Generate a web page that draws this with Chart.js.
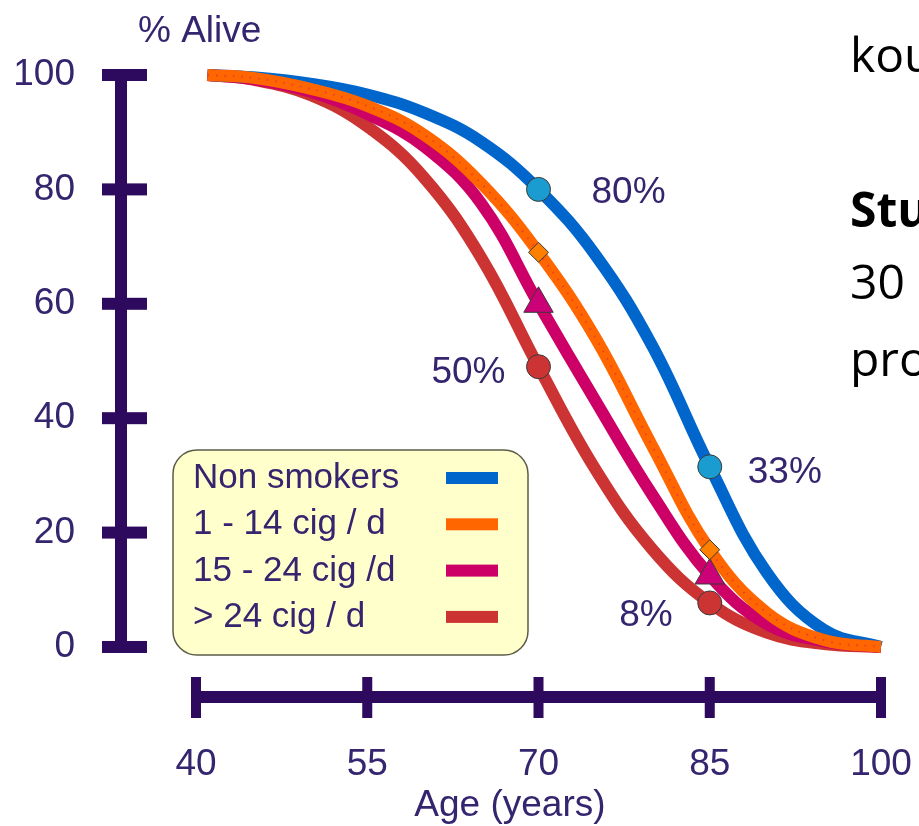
<!DOCTYPE html>
<html lang="en">
  <head>
    <meta charset="UTF-8" />
    <title>% Alive by age and smoking</title>
    <script src="https://cdn.jsdelivr.net/npm/chart.js"></script>
    <style>
      html,
      body {
        margin: 0;
        width: 919px;
        height: 826px;
        overflow: hidden;
        background: #fff;
        font-family: "Liberation Sans", Arial, sans-serif;
      }
      #wrap {
        position: absolute;
        left: 0;
        top: 0;
        width: 919px;
        height: 826px;
      }
      .slide {
        position: absolute;
        left: 850px;
        font-family: "Open Sans", sans-serif;
        font-size: 48px;
        line-height: 1;
        color: #000;
        white-space: nowrap;
      }
    </style>
  </head>
  <body>
    <div id="wrap"><canvas id="chart"></canvas></div>
    <div class="slide" style="top: 30px">kou</div>
    <div class="slide" style="top: 185px; font-weight: 700">Stu</div>
    <div class="slide" style="top: 257px">30</div>
    <div class="slide" style="top: 334px">pro</div>
    <script>
      // values
      const ages = [41, 45, 50, 55, 60, 65, 70, 75, 80, 85, 90, 95, 100];
      const nonSmokers = [100, 99.6, 98.5, 96.6, 93.4, 88.3, 80, 68.5, 52.5, 31.5, 13, 3, 0];
      const light = [100, 99.5, 97.6, 94.6, 89.5, 81, 69, 54, 35, 17, 6, 1.2, 0];
      const medium = [100, 99.3, 97.1, 93.2, 87.5, 77.5, 60, 43, 26.5, 12.5, 4, 1, 0];
      const heavy = [100, 99.2, 96.5, 91, 82, 68, 49, 31, 17, 7.7, 2.5, 0.5, 0];

      const seriesLabels = ["Non smokers", "1 - 14 cig / d", "15 - 24 cig /d", "> 24 cig / d"];
      const seriesColors = ["#0066cc", "#ff6600", "#cc0066", "#cc3333"];
      const xTicks = [40, 55, 70, 85, 100];
      const yTicks = [0, 20, 40, 60, 80, 100];
      const markerAges = [70, 85];
      const nonSmokerCallouts = ["80%", "33%"];
      const heavyCallouts = ["50%", "8%"];

      const ink = "#2e0a5e";
      const textColor = "#35256f";
      const allSeries = [nonSmokers, light, medium, heavy];

      function points(series) {
        return ages.map((a, i) => ({ x: a, y: series[i] }));
      }
      function markerPoints(series) {
        return markerAges.map((a) => ({ x: a, y: series[ages.indexOf(a)] }));
      }

      const lineDatasets = allSeries.map((s, i) => ({
        label: seriesLabels[i],
        data: points(s),
        borderColor: seriesColors[i],
        borderWidth: 12,
        pointRadius: 0,
        tension: 0.4,
        clip: false,
        order: [2, 1, 3, 4][i],
      }));

      // little red dots running along the orange curve
      const dotted = {
        data: points(light),
        borderColor: "#e8402e",
        borderWidth: 2,
        borderDash: [1.5, 7],
        pointRadius: 0,
        tension: 0.4,
        clip: false,
        order: 0,
        isOverlay: true,
      };

      const markerStyle = [
        { pointStyle: "circle", radius: 12, color: "#1b9cd0" },
        { pointStyle: "rectRot", radius: 10, color: "#ff8000" },
        { pointStyle: "triangle", radius: 17, color: "#cc0077" },
        { pointStyle: "circle", radius: 12, color: "#cc3333" },
      ];
      const markerDatasets = allSeries.map((s, i) => ({
        data: markerPoints(s),
        showLine: false,
        pointStyle: markerStyle[i].pointStyle,
        pointRadius: markerStyle[i].radius,
        pointBackgroundColor: markerStyle[i].color,
        pointBorderColor: "#3a3a3a",
        pointBorderWidth: 1,
        clip: false,
        order: -1,
        isOverlay: true,
      }));

      const drawing = {
        id: "drawing",
        beforeDatasetsDraw(chart) {
          const { ctx, chartArea, scales } = chart;
          const x = scales.x,
            y = scales.y;
          ctx.save();
          ctx.fillStyle = ink;
          // y axis
          const ax = chartArea.left;
          const yTop = y.getPixelForValue(100),
            yBot = y.getPixelForValue(0);
          ctx.fillRect(ax - 6, yTop, 12, yBot - yTop);
          yTicks.forEach((v) => {
            const py = y.getPixelForValue(v);
            ctx.fillRect(ax - 19, py - 6, 45, 12);
          });
          // x axis
          const ay = chartArea.bottom - 1;
          const xl = x.getPixelForValue(40),
            xr = x.getPixelForValue(100);
          ctx.fillRect(xl, ay - 6, xr - xl, 12);
          xTicks.forEach((v) => {
            const px = x.getPixelForValue(v);
            ctx.fillRect(px - 5, ay - 20, 10, 41);
          });
          // titles
          ctx.fillStyle = textColor;
          ctx.font = "37px 'Liberation Sans', Arial, sans-serif";
          ctx.textBaseline = "alphabetic";
          ctx.textAlign = "left";
          ctx.fillText("% Alive", ax + 17, 42);
          ctx.textAlign = "center";
          ctx.fillText("Age (years)", x.getPixelForValue(67.5), 816);
          ctx.restore();
        },
        afterDatasetsDraw(chart) {
          const { ctx, scales } = chart;
          const x = scales.x,
            y = scales.y;
          ctx.save();
          ctx.fillStyle = textColor;
          ctx.font = "37px 'Liberation Sans', Arial, sans-serif";
          ctx.textBaseline = "alphabetic";
          // callouts next to the markers
          const offR = [
            [53, 14],
            [38, 16],
          ];
          const offL = [
            [33, 16],
            [37, 23],
          ];
          markerAges.forEach((a, i) => {
            const px = x.getPixelForValue(a);
            ctx.textAlign = "left";
            ctx.fillText(nonSmokerCallouts[i], px + offR[i][0], y.getPixelForValue(nonSmokers[ages.indexOf(a)]) + offR[i][1]);
            ctx.textAlign = "right";
            ctx.fillText(heavyCallouts[i], px - offL[i][0], y.getPixelForValue(heavy[ages.indexOf(a)]) + offL[i][1]);
          });

          // legend box
          const bx = 173,
            by = 450,
            bw = 355,
            bh = 205;
          ctx.beginPath();
          ctx.roundRect(bx, by, bw, bh, 24);
          ctx.fillStyle = "#ffffcc";
          ctx.fill();
          ctx.lineWidth = 1.5;
          ctx.strokeStyle = "#5c5c48";
          ctx.stroke();
          ctx.font = "35px 'Liberation Sans', Arial, sans-serif";
          ctx.textAlign = "left";
          chart.data.datasets
            .filter((d) => !d.isOverlay)
            .forEach((d, i) => {
              const base = 488 + i * 46.3;
              ctx.fillStyle = textColor;
              ctx.fillText(d.label, bx + 20, base);
              ctx.fillStyle = d.borderColor;
              ctx.fillRect(446, base - 16, 52, 12);
            });
          ctx.restore();
        },
      };

      new Chart(document.getElementById("chart"), {
        type: "line",
        data: { datasets: [...lineDatasets, dotted, ...markerDatasets] },
        options: {
          responsive: true,
          maintainAspectRatio: false,
          animation: false,
          layout: { padding: { top: 75, right: 38, left: 0, bottom: 0 } },
          plugins: { legend: { display: false }, tooltip: { enabled: false } },
          scales: {
            x: {
              type: "linear",
              min: 33.43,
              max: 100,
              grid: { display: false, drawTicks: false },
              border: { display: false },
              afterBuildTicks: (s) => {
                s.ticks = xTicks.map((v) => ({ value: v }));
              },
              afterFit: (s) => {
                s.height = 128;
                s.paddingLeft = 0;
                s.paddingRight = 0;
              },
              ticks: {
                autoSkip: false,
                maxRotation: 0,
                padding: 45,
                color: textColor,
                font: { size: 37, family: "'Liberation Sans', Arial, sans-serif" },
              },
            },
            y: {
              min: -8.92,
              max: 100,
              grid: { display: false, drawTicks: false },
              border: { display: false },
              afterBuildTicks: (s) => {
                s.ticks = yTicks.map((v) => ({ value: v }));
              },
              afterFit: (s) => {
                s.width = 121;
                s.paddingTop = 0;
                s.paddingBottom = 0;
              },
              ticks: {
                padding: 46,
                color: textColor,
                font: { size: 37, family: "'Liberation Sans', Arial, sans-serif" },
              },
            },
          },
        },
        plugins: [drawing],
      });
    </script>
  </body>
</html>
